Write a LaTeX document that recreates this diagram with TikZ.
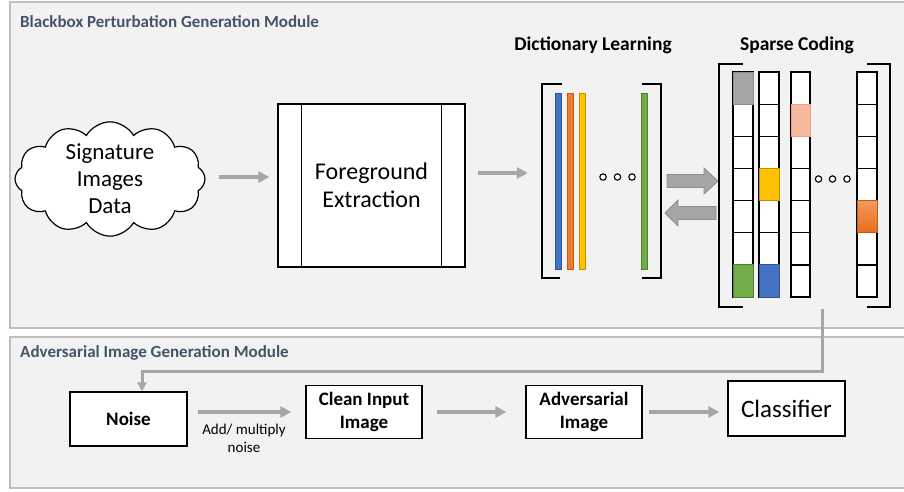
\documentclass[tikz,border=0pt]{standalone}
\usepackage{fontspec}
\setmainfont{Carlito}
\usetikzlibrary{shapes.symbols,arrows.meta,calc}

\definecolor{panelfill}{HTML}{F2F2F2}
\definecolor{panelline}{HTML}{BFBFBF}
\definecolor{titleblue}{HTML}{44546A}
\definecolor{arrowgray}{HTML}{A6A6A6}
\definecolor{blockline}{HTML}{8C8C8C}
\definecolor{cblue}{HTML}{4472C4}
\definecolor{cblued}{HTML}{2F5597}
\definecolor{corange}{HTML}{ED7D31}
\definecolor{coranged}{HTML}{C55A11}
\definecolor{corangetop}{HTML}{F29A5E}
\definecolor{corangebot}{HTML}{E56C1C}
\definecolor{cyellow}{HTML}{FFC000}
\definecolor{cyellowd}{HTML}{BF9000}
\definecolor{cgreen}{HTML}{70AD47}
\definecolor{cgreend}{HTML}{507E32}
\definecolor{cgray}{HTML}{A5A5A5}
\definecolor{cgrayd}{HTML}{8C8C8C}
\definecolor{csalmon}{HTML}{F4B99F}
\definecolor{csalmond}{HTML}{F0A07E}

\tikzset{
  panel/.style={draw=panelline, line width=1.5pt, fill=panelfill},
  paneltitle/.style={anchor=west, text=titleblue, inner sep=0pt,
    font=\fontsize{17}{20}\selectfont\bfseries},
  coltitle/.style={inner sep=0pt, font=\fontsize{19.5}{23}\selectfont\bfseries},
  procbox/.style={draw=black, line width=1.3pt, fill=white, align=center, inner sep=0pt},
  boldbox/.style={procbox, font=\fontsize{19}{23}\selectfont\bfseries},
  garrow/.style={draw=arrowgray, line width=3.5pt,
    -{Triangle[length=11pt,width=11pt]}},
  conn/.style={draw=arrowgray, line width=3pt,
    -{Triangle[length=9pt,width=9pt]}},
  cell/.style={draw=black, line width=1.2pt, fill=white},
  bracket/.style={draw=black, line width=1.3pt},
  bar/.style={line width=0.8pt},
  dot/.style={draw=black, line width=1.1pt, fill=white},
  block/.style={fill=arrowgray, draw=blockline, line width=0.8pt}
}

\begin{document}
\begin{tikzpicture}[x=1pt,y=-1pt]
\useasboundingbox (0,0) rectangle (904,491);

% module panels
\draw[panel] (10,2) rectangle (912,328);
\draw[panel] (10,337) rectangle (912,488);
\node[paneltitle] (toptitle) at (20,22) {Blackbox Perturbation Generation Module};
\node[paneltitle] (bottitle) at (20,353) {Adversarial Image Generation Module};

% input data and foreground extraction
\node[cloud, draw=black, line width=1.2pt, fill=white, cloud puffs=12,
      cloud puff arc=120, cloud ignores aspect, minimum width=190pt,
      minimum height=114pt, inner sep=0pt, align=center,
      font=\fontsize{23}{27}\selectfont] (cloud) at (110,179)
      {Signature\\Images\\Data};

\node[procbox, minimum width=187pt, minimum height=163pt,
      font=\fontsize{24}{28}\selectfont] (fe) at (371.5,185.5)
      {Foreground\\Extraction};
\draw[line width=1.3pt] ([xshift=24pt]fe.north west) -- ([xshift=24pt]fe.south west);
\draw[line width=1.3pt] ([xshift=-24pt]fe.north east) -- ([xshift=-24pt]fe.south east);

\draw[garrow, shorten <=13pt, shorten >=8pt] ([yshift=2pt]cloud.east) -- ([yshift=2pt]cloud.east -| fe.west);

% dictionary learning
\node[coltitle] (dictitle) at (593,45) {Dictionary Learning};
\node[inner sep=0pt, minimum width=119pt, minimum height=194pt] (dict) at (601.5,181) {};
\draw[bracket] (562,84) -- (542,84) -- (542,278) -- (560,278);
\draw[bracket] (642,84) -- (661,84) -- (661,278) -- (642,278);
\draw[bar, fill=cblue, draw=cblued] (555,93) rectangle (561.5,269);
\draw[bar, fill=corange, draw=coranged] (567,93) rectangle (573.5,269);
\draw[bar, fill=cyellow, draw=cyellowd] (579,93) rectangle (585.5,269);
\draw[bar, fill=cgreen, draw=cgreend] (641,93) rectangle (647.5,269);
\foreach \cx in {603,617.5,632}{\draw[dot] (\cx,177) circle (3.2pt);}

\draw[garrow, shorten <=12pt, shorten >=14pt] ([yshift=12.5pt]fe.east) -- ([yshift=12.5pt]fe.east -| dict.west);

% sparse coding
\node[coltitle] (sptitle) at (797,45) {Sparse Coding};
\node[inner sep=0pt, minimum width=171pt, minimum height=243pt] (sparse) at (804.5,185.5) {};
\draw[bracket] (743,64) -- (719,64) -- (719,307) -- (743,307);
\draw[bracket] (867,64) -- (890,64) -- (890,307) -- (867,307);
\foreach \xa/\xb in {733/753,759/779,791/810,857/877}{
  \foreach \i in {0,...,6}{
    \draw[cell] (\xa,72+32.15*\i) rectangle (\xb,72+32.15*\i+32.15);
  }
}
\foreach \xa/\xb/\i/\fc/\dc in {733/753/0/cgray/cgrayd, 733/753/6/cgreen/cgreend,
    759/779/3/cyellow/cyellowd, 759/779/6/cblue/cblued,
    791/810/1/csalmon/csalmond}{
  \draw[fill=\fc, draw=\dc, line width=1pt] (\xa,72+32.15*\i) rectangle (\xb,72+32.15*\i+32.15);
}
\draw[top color=corangetop, bottom color=corangebot, draw=coranged, line width=1pt]
  (857,72+32.15*4) rectangle (877,72+32.15*5);
\foreach \cx in {818.5,832.5,847}{\draw[dot] (\cx,179) circle (3.2pt);}

% exchange between dictionary and codes
\draw[block] (667,174.5) -- (704,174.5) -- (704,168) -- (718,181) -- (704,194)
  -- (704,187.5) -- (667,187.5) -- cycle;
\draw[block] (716,206.5) -- (678,206.5) -- (678,200) -- (665,213) -- (678,226)
  -- (678,219.5) -- (716,219.5) -- cycle;

% adversarial image generation
\node[boldbox, minimum width=117pt, minimum height=54pt] (noise) at (128.5,419) {Noise};
\node[boldbox, minimum width=116pt, minimum height=53pt] (clean) at (364,412) {Clean Input\\Image};
\node[boldbox, minimum width=116pt, minimum height=53pt] (adv) at (584,412) {Adversarial\\Image};
\node[procbox, minimum width=117pt, minimum height=55pt,
      font=\fontsize{25}{29}\selectfont] (clf) at (786.5,408.5) {Classifier};

\draw[garrow, shorten <=10pt, shorten >=14pt] (clean.west -| noise.east) -- (clean.west);
\node[align=center, inner sep=0pt, font=\fontsize{15}{18}\selectfont] (addlbl) at (244,438)
  {Add/ multiply\\noise};
\draw[garrow, shorten <=14pt, shorten >=19pt] (clean.east) -- (adv.west);
\draw[garrow, shorten <=6pt, shorten >=8pt] (adv.east) -- (adv.east -| clf.west);

% feedback of the sparse codes as noise
\coordinate (turn) at (142,371);
\draw[conn] ([xshift=17.5pt,yshift=-2pt]sparse.south) |- (turn) -- (turn |- noise.north);
\end{tikzpicture}
\end{document}
